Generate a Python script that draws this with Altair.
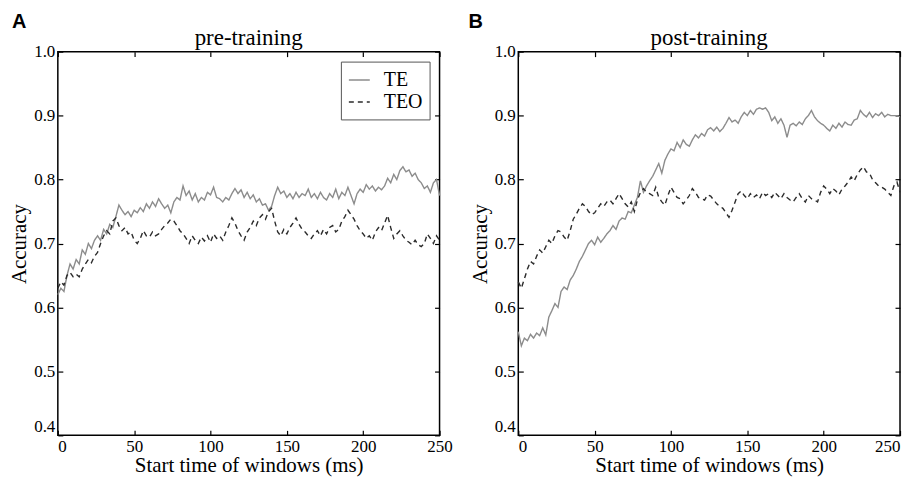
import altair as alt
import pandas as pd

# ---- data (accuracy vs. window start time, 2 ms steps 0..250) ----
pre_te = [
    0.620, 0.630, 0.625, 0.650, 0.668, 0.660, 0.675, 0.668, 0.690, 0.683,
    0.700, 0.692, 0.705, 0.712, 0.705, 0.722, 0.715, 0.730, 0.725, 0.742,
    0.760, 0.752, 0.745, 0.750, 0.742, 0.752, 0.748, 0.756, 0.750, 0.762,
    0.755, 0.765, 0.758, 0.770, 0.762, 0.755, 0.760, 0.748, 0.765, 0.772,
    0.768, 0.790, 0.775, 0.782, 0.768, 0.778, 0.765, 0.772, 0.768, 0.780,
    0.776, 0.788, 0.772, 0.770, 0.765, 0.772, 0.768, 0.778, 0.786, 0.778,
    0.784, 0.772, 0.780, 0.770, 0.776, 0.765, 0.770, 0.760, 0.762, 0.752,
    0.758, 0.775, 0.788, 0.778, 0.782, 0.772, 0.778, 0.770, 0.780, 0.772,
    0.778, 0.775, 0.785, 0.772, 0.778, 0.770, 0.780, 0.772, 0.768, 0.778,
    0.772, 0.785, 0.770, 0.780, 0.775, 0.788, 0.775, 0.762, 0.778, 0.785,
    0.780, 0.792, 0.785, 0.790, 0.782, 0.788, 0.784, 0.790, 0.802, 0.795,
    0.808, 0.800, 0.814, 0.820, 0.812, 0.815, 0.805, 0.810, 0.800, 0.795,
    0.786, 0.790, 0.780, 0.795, 0.800, 0.775,
]
pre_teo = [
    0.630, 0.640, 0.635, 0.650, 0.655, 0.648, 0.652, 0.648, 0.660, 0.668,
    0.675, 0.670, 0.680, 0.686, 0.700, 0.712, 0.720, 0.715, 0.735, 0.740,
    0.728, 0.720, 0.725, 0.715, 0.718, 0.705, 0.700, 0.708, 0.720, 0.712,
    0.710, 0.718, 0.712, 0.715, 0.722, 0.728, 0.732, 0.738, 0.735, 0.728,
    0.720, 0.715, 0.708, 0.700, 0.712, 0.705, 0.700, 0.710, 0.704, 0.712,
    0.702, 0.715, 0.708, 0.712, 0.705, 0.718, 0.728, 0.740, 0.732, 0.720,
    0.712, 0.705, 0.718, 0.725, 0.735, 0.728, 0.740, 0.745, 0.738, 0.750,
    0.755, 0.735, 0.718, 0.712, 0.722, 0.715, 0.725, 0.732, 0.740, 0.730,
    0.722, 0.718, 0.712, 0.708, 0.715, 0.720, 0.712, 0.722, 0.715, 0.725,
    0.728, 0.718, 0.722, 0.735, 0.742, 0.752, 0.745, 0.738, 0.728, 0.720,
    0.715, 0.708, 0.712, 0.705, 0.718, 0.725, 0.720, 0.732, 0.744, 0.725,
    0.708, 0.715, 0.720, 0.712, 0.705, 0.702, 0.698, 0.705, 0.698, 0.695,
    0.700, 0.715, 0.708, 0.700, 0.712, 0.705,
]
post_te = [
    0.562, 0.540, 0.552, 0.548, 0.558, 0.552, 0.560, 0.556, 0.568, 0.557,
    0.585, 0.595, 0.606, 0.600, 0.625, 0.632, 0.628, 0.643, 0.650, 0.660,
    0.672, 0.680, 0.690, 0.700, 0.705, 0.698, 0.710, 0.702, 0.708, 0.715,
    0.720, 0.728, 0.722, 0.735, 0.740, 0.738, 0.750, 0.748, 0.760, 0.772,
    0.798, 0.780, 0.790, 0.798, 0.805, 0.815, 0.825, 0.810, 0.830, 0.840,
    0.848, 0.845, 0.858, 0.850, 0.862, 0.855, 0.852, 0.862, 0.870, 0.865,
    0.872, 0.868, 0.878, 0.881, 0.876, 0.882, 0.875, 0.880, 0.888, 0.897,
    0.890, 0.893, 0.888, 0.898, 0.905, 0.900, 0.908, 0.902, 0.910, 0.912,
    0.910, 0.912, 0.905, 0.892, 0.898, 0.888, 0.895, 0.885, 0.866, 0.885,
    0.888, 0.884, 0.890, 0.886, 0.895, 0.900, 0.908, 0.898, 0.892, 0.888,
    0.885, 0.880, 0.876, 0.885, 0.880, 0.888, 0.882, 0.890, 0.886, 0.885,
    0.893, 0.895, 0.908, 0.902, 0.898, 0.905, 0.897, 0.903, 0.900, 0.905,
    0.898, 0.902, 0.900, 0.900, 0.900, 0.898,
]
post_teo = [
    0.640, 0.630, 0.645, 0.660, 0.672, 0.668, 0.680, 0.690, 0.685, 0.695,
    0.705, 0.700, 0.712, 0.720, 0.718, 0.710, 0.705, 0.720, 0.738, 0.746,
    0.755, 0.762, 0.758, 0.750, 0.745, 0.748, 0.755, 0.762, 0.758, 0.765,
    0.768, 0.762, 0.770, 0.778, 0.770, 0.762, 0.757, 0.765, 0.750, 0.768,
    0.780, 0.786, 0.780, 0.778, 0.775, 0.788, 0.772, 0.765, 0.760, 0.775,
    0.788, 0.780, 0.772, 0.770, 0.762, 0.768, 0.775, 0.786, 0.780, 0.772,
    0.770, 0.768, 0.776, 0.774, 0.768, 0.762, 0.758, 0.755, 0.748, 0.741,
    0.752, 0.765, 0.778, 0.782, 0.775, 0.770, 0.778, 0.772, 0.776, 0.770,
    0.780, 0.775, 0.778, 0.772, 0.780, 0.775, 0.770, 0.778, 0.772, 0.768,
    0.765, 0.772, 0.778, 0.770, 0.765, 0.775, 0.770, 0.768, 0.765, 0.780,
    0.790, 0.785, 0.778, 0.786, 0.782, 0.776, 0.785, 0.790, 0.796, 0.804,
    0.798, 0.808, 0.815, 0.820, 0.812, 0.810, 0.800, 0.795, 0.790, 0.788,
    0.785, 0.780, 0.775, 0.790, 0.796, 0.780,
]
series_names = ["TE", "TEO"]
x_ticks = [0, 50, 100, 150, 200, 250]
y_ticks = [0.4, 0.5, 0.6, 0.7, 0.8, 0.9, 1.0]

SERIF = "Liberation Serif"
W, H = 383, 385


def make_df(te, teo):
    rows = []
    for name, vals in zip(series_names, [te, teo]):
        for i, v in enumerate(vals):
            rows.append({"t": 2 * i, "acc": v, "series": name})
    return pd.DataFrame(rows)


xscale = alt.Scale(domain=[0, 250], nice=False, zero=False)
yscale = alt.Scale(domain=[0.4, 1.0], nice=False, zero=False)


def panel(df, title, letter, letter_x, show_legend, last_right):
    if show_legend:
        legend = alt.Legend(
            title=None, orient="top-right", offset=10,
            strokeColor="#555555", fillColor="white", padding=7,
            cornerRadius=0, labelFont=SERIF, labelFontSize=20,
            labelColor="black", symbolType="stroke", symbolSize=441,
            symbolStrokeWidth=1.4, rowPadding=0, labelOffset=13,
        )
    else:
        legend = None
    if last_right:
        x_align = {"condition": [
            {"test": "datum.value < 1", "value": "left"},
            {"test": "datum.value > 249", "value": "right"},
        ], "value": "center"}
    else:
        x_align = {"condition": {"test": "datum.value < 1", "value": "left"}, "value": "center"}
    base = alt.Chart(df)
    lines = base.mark_line(strokeWidth=1.4).encode(
        x=alt.X("t:Q", scale=xscale, axis=alt.Axis(
            values=x_ticks, title="Start time of windows (ms)",
            offset=-5, tickSize=5, domain=False, grid=False,
            labelPadding=3, titlePadding=0, labelAlign=x_align,
        )),
        y=alt.Y("acc:Q", scale=yscale, axis=alt.Axis(
            values=y_ticks, format=".1f", title="Accuracy",
            offset=-5, tickSize=5, domain=False, grid=False,
            labelPadding=3, titlePadding=4,
            labelBaseline={"condition": {"test": "datum.value < 0.45", "value": "bottom"}, "value": "middle"},
        )),
        color=alt.Color("series:N", scale=alt.Scale(domain=series_names, range=["#8c8c8c", "#2b2b2b"]), legend=legend),
        strokeDash=alt.StrokeDash("series:N", scale=alt.Scale(domain=series_names, range=[[1, 0], [5, 4]]), legend=legend),
    )
    mirror = base.mark_line(strokeOpacity=0).encode(
        x=alt.X("t:Q", scale=xscale, axis=alt.Axis(
            orient="top", values=x_ticks, labels=False, title=None,
            offset=-5, tickSize=5, domain=False, grid=False)),
        y=alt.Y("acc:Q", scale=yscale, axis=alt.Axis(
            orient="right", values=y_ticks, labels=False, title=None,
            offset=-5, tickSize=5, domain=False, grid=False)),
        detail="series:N",
    )
    lab = alt.Chart(pd.DataFrame({"L": [letter]})).mark_text(
        font="Liberation Sans", fontWeight="bold", fontSize=20,
        align="left", baseline="top", color="black",
    ).encode(text="L:N", x=alt.value(letter_x), y=alt.value(-40))
    ttl = alt.Chart(pd.DataFrame({"T": [title]})).mark_text(
        font=SERIF, fontSize=23, align="center", baseline="alphabetic", color="black",
    ).encode(text="T:N", x=alt.value(W / 2), y=alt.value(-7))
    return alt.layer(lines, mirror, lab, ttl).resolve_axis(
        x="independent", y="independent"
    ).properties(width=W, height=H)


pa = panel(make_df(pre_te, pre_teo), "pre-training", "A", -46, True, False)
pb = panel(make_df(post_te, post_teo), "post-training", "B", -50, False, True)

chart = alt.hconcat(pa, pb, spacing=14).resolve_scale(
    color="independent", strokeDash="independent"
).resolve_legend(
    color="independent", strokeDash="independent"
).properties(
    padding={"left": 0, "top": 2, "right": 0, "bottom": 0},
    background="white",
).configure_view(
    stroke="black", strokeWidth=1.5
).configure_axis(
    labelFont=SERIF, labelFontSize=17, labelColor="black",
    titleFont=SERIF, titleFontSize=21, titleFontWeight="normal", titleColor="black",
    tickColor="black", tickWidth=1.2,
)

chart.save("out.html", embed_options={"renderer": "svg", "actions": False})
